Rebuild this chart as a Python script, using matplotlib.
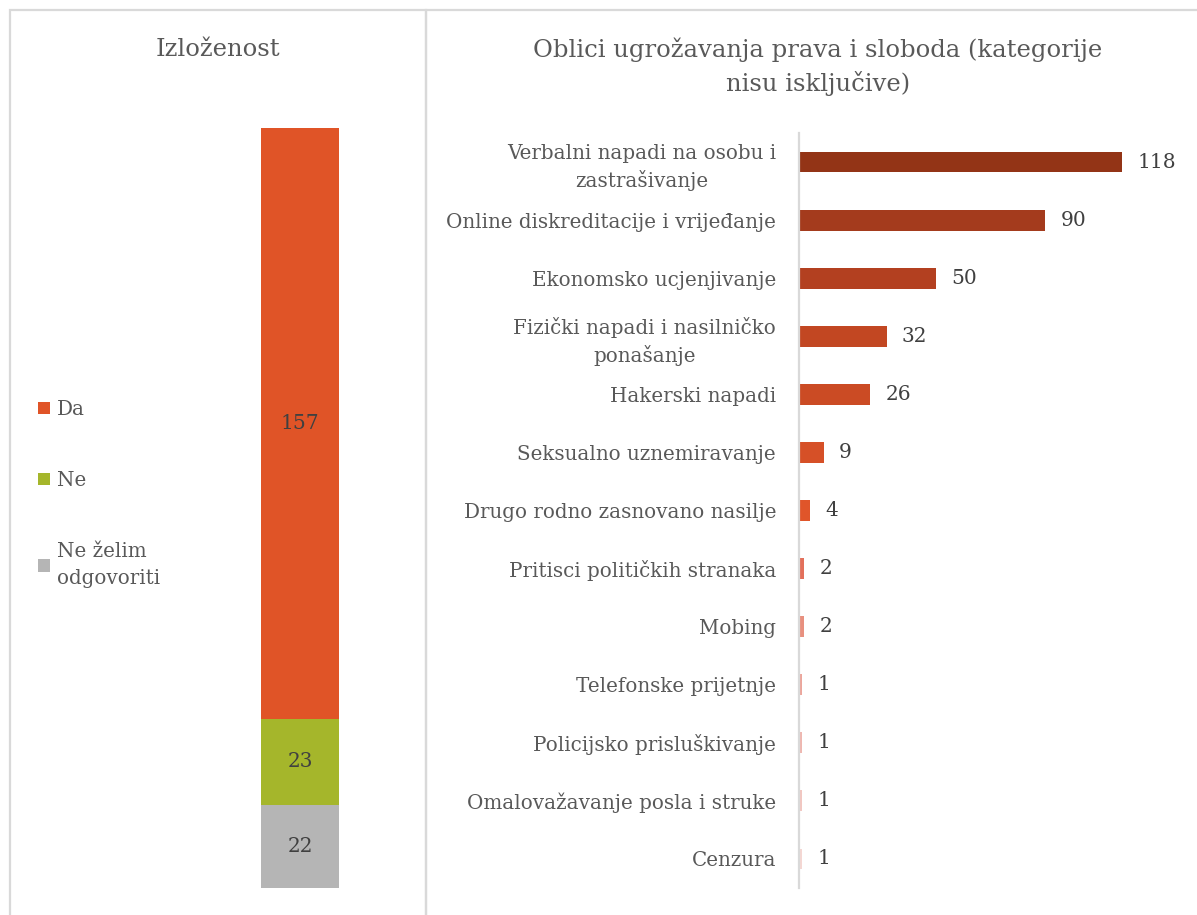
import matplotlib.pyplot as plt
from matplotlib.patches import Rectangle

# data
exposure_labels = ['Da', 'Ne', 'Ne želim\nodgovoriti']
exposure_values = [157, 23, 22]
exposure_colors = ['#E05427', '#A5B62B', '#B5B5B5']

threat_labels = ['Verbalni napadi na osobu i\nzastrašivanje',
                 'Online diskreditacije i vrijeđanje',
                 'Ekonomsko ucjenjivanje',
                 'Fizički napadi i nasilničko\nponašanje',
                 'Hakerski napadi',
                 'Seksualno uznemiravanje',
                 'Drugo rodno zasnovano nasilje',
                 'Pritisci političkih stranaka',
                 'Mobing',
                 'Telefonske prijetnje',
                 'Policijsko prisluškivanje',
                 'Omalovažavanje posla i struke',
                 'Cenzura']
threat_values = [118, 90, 50, 32, 26, 9, 4, 2, 2, 1, 1, 1, 1]
threat_colors = ['#933416', '#A43B1D', '#B34020', '#C24722', '#CB4B24',
                 '#D65027', '#E0552A', '#E3705B', '#E8907F', '#ECA69C',
                 '#EFB7B0', '#F2C7C1', '#F5D7D3']

TXT = '#595959'
NUM = '#404040'
plt.rcParams['font.family'] = ['DejaVu Serif']

W, H = 1197, 915
fig = plt.figure(figsize=(W / 100, H / 100), dpi=100)

def fx(px): return px / W
def fy(py): return 1 - py / H

# panel frames
for x0, x1 in [(10, 426), (426, 1220)]:
    fig.patches.append(Rectangle((fx(x0), fy(940)), fx(x1 - x0), (930) / H,
                                 transform=fig.transFigure, fill=False,
                                 edgecolor='#D9D9D9', lw=1.6, clip_on=False))

# left: stacked column
axl = fig.add_axes([fx(220), fy(888), fx(160), (888 - 128) / H])
bottom = 0
conts = []
for lab, v, c in zip(exposure_labels[::-1], exposure_values[::-1], exposure_colors[::-1]):
    b = axl.bar(0, v, width=0.975, bottom=bottom, color=c, label=lab)
    axl.bar_label(b, labels=[str(v)], label_type='center', color=NUM, fontsize=14.5)
    conts.append(b)
    bottom += v
axl.set_xlim(-1, 1)
axl.set_ylim(0, sum(exposure_values))
axl.axis('off')

fig.text(fx(218), fy(50), 'Izloženost', ha='center', va='center',
         fontsize=17.5, color=TXT)

leg = fig.legend(handles=conts[::-1], labels=exposure_labels, loc='upper left',
                 bbox_to_anchor=(fx(38), fy(400)), frameon=False, fontsize=14.3,
                 labelcolor=TXT, handlelength=0.6, handleheight=0.6,
                 handletextpad=0.35, labelspacing=2.62, borderpad=0, borderaxespad=0)
for t in leg.get_texts():
    t.set_linespacing(1.5)

# right: horizontal bars
axr = fig.add_axes([fx(799), fy(888), fx(381), (888 - 133) / H])
ypos = list(range(len(threat_values)))
bars = axr.barh(ypos, threat_values, height=0.36, color=threat_colors)
axr.bar_label(bars, padding=11, color=NUM, fontsize=14.5)
axr.set_xlim(0, 139.2)
axr.set_ylim(len(threat_values) - 0.5, -0.5)
axr.set_yticks(ypos)
axr.set_yticklabels(threat_labels, color=TXT, fontsize=14.3, ha='right',
                    multialignment='center', linespacing=1.42)
axr.tick_params(axis='y', length=0, pad=16.5)
axr.set_xticks([])
for s in ['top', 'right', 'bottom']:
    axr.spines[s].set_visible(False)
axr.spines['left'].set_color('#D9D9D9')
axr.spines['left'].set_linewidth(1.6)

fig.text(fx(818), fy(67), 'Oblici ugrožavanja prava i sloboda (kategorije\nnisu isključive)',
         ha='center', va='center', fontsize=17.5, color=TXT, linespacing=1.45)

fig.savefig('out.png', dpi=100)
